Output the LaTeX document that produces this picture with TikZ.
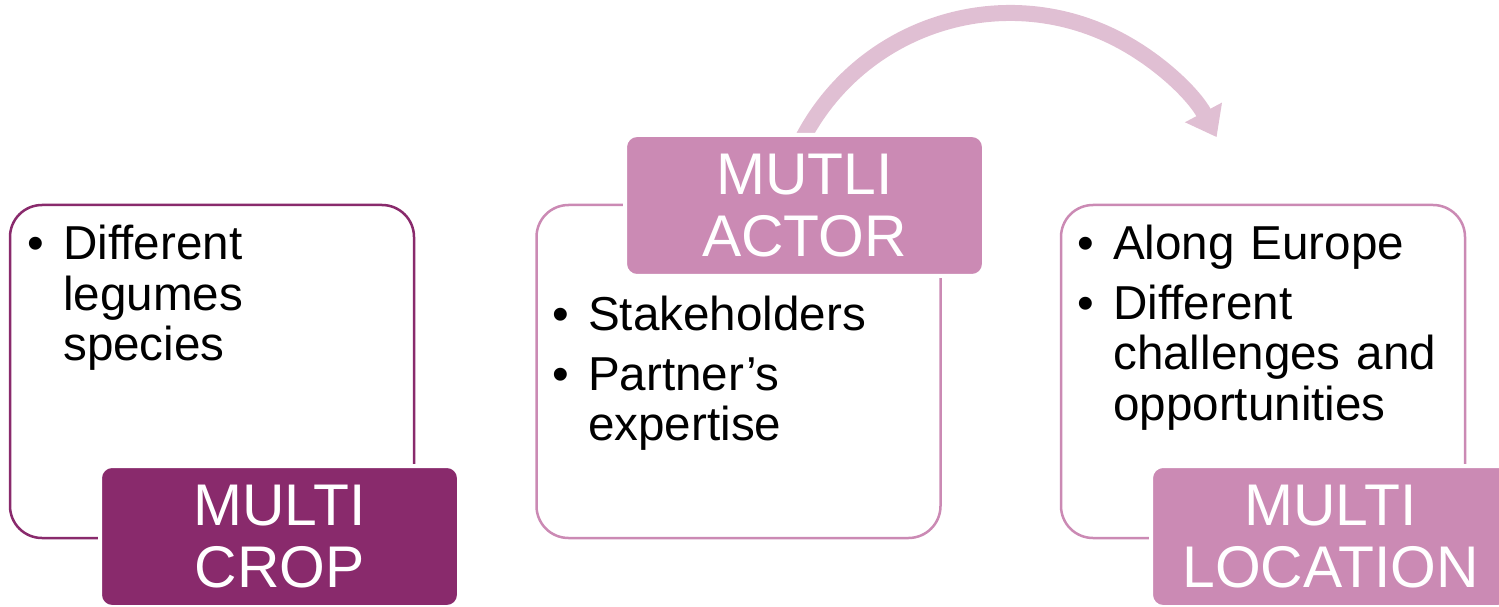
\documentclass[tikz,border=0pt]{standalone}
\usepackage{fontspec}
\setmainfont{Liberation Sans}
\usetikzlibrary{arrows.meta}

\definecolor{cropplum}{RGB}{137,42,108}
\definecolor{actorpink}{RGB}{203,138,180}
\definecolor{arrowpink}{RGB}{224,191,211}

\newcommand{\bitem}[1]{\hangindent=36pt\hangafter=1\noindent\makebox[36pt][l]{\textbullet}#1\par}

\begin{document}
\begin{tikzpicture}[x=1pt, y=1pt,
    outline/.style={draw, line width=2.5pt, rounded corners=32pt,
      minimum width=404pt, minimum height=333pt, inner sep=0pt},
    headbox/.style={draw=white, line width=4pt, rounded corners=12pt,
      minimum width=359pt, minimum height=141pt, inner sep=0pt,
      text=white, align=center, font=\fontsize{58.8}{62}\selectfont},
    bullets/.style={anchor=base west, inner sep=0pt, text width=420pt,
      font=\fontsize{47.6}{50.5}\selectfont}]
  \useasboundingbox (0,0) rectangle (1499,606);

  % outlined boxes
  \node[outline, draw=cropplum]  (crop)     at (212, 234.5)   {};
  \node[outline, draw=actorpink] (actor)    at (738.5, 234.5) {};
  \node[outline, draw=actorpink] (location) at (1263, 234.5)  {};

  % arrow over the top
  \coordinate (bend) at (1010, 359);
  \coordinate (arrow-start) at ([shift={(153:234)}]bend);
  \draw[arrowpink, line width=16pt, -{Triangle[width=40pt, length=28pt]}]
    (arrow-start) arc[start angle=153, end angle=28, radius=234];

  % headings
  \node[headbox, fill=cropplum]  (crop-head)     at (279.5, 69.5)  {MULTI\\CROP};
  \node[headbox, fill=actorpink] (actor-head)    at (804.5, 400.5) {MUTLI\\ACTOR};
  \node[headbox, fill=actorpink] (location-head) at (1330.5, 69.5) {MULTI\\LOCATION};

  % bullet texts
  \node[bullets] (crop-t1)     at (27, 346)   {\bitem{Different\newline legumes\newline species}};
  \node[bullets] (actor-t1)    at (552, 276)  {\bitem{Stakeholders}};
  \node[bullets] (actor-t2)    at (552, 216)  {\bitem{Partner’s\newline expertise}};
  \node[bullets] (location-t1) at (1077, 346) {\bitem{Along Europe}};
  \node[bullets] (location-t2) at (1077, 287) {\bitem{Different\newline challenges and\newline opportunities}};
\end{tikzpicture}
\end{document}
